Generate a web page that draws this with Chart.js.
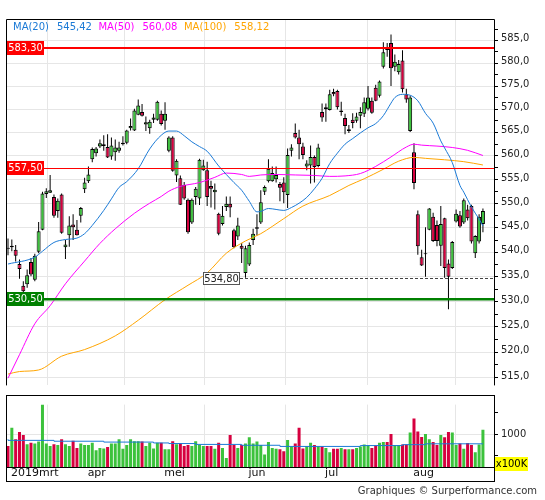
<!DOCTYPE html>
<html><head><meta charset="utf-8">
<script src="https://cdn.jsdelivr.net/npm/chart.js@4/dist/chart.umd.min.js"></script>
<style>
html,body{margin:0;padding:0;background:#fff;}
#wrap{position:relative;width:545px;height:500px;background:#fff;}
#c1{position:absolute;left:0;top:0;}
#c2{position:absolute;left:0;top:395px;}
</style></head><body>
<div id="wrap"><canvas id="c1" width="545" height="395"></canvas><canvas id="c2" width="545" height="105"></canvas></div>
<script>
// ---------- DATA ----------
const monthLabels = ['2019mrt','apr','mei','jun','jul','aug'];
const monthFirstIdx = [0,21,41,63,83,106];

const opens = [540.9,541.0,540.5,537.6,533.2,533.5,538.0,534.4,540.1,544.6,
552.0,552.3,551.4,548.5,551.9,541.0,543.5,545.7,544.6,547.5,
553.0,554.7,559.3,560.6,562.0,562.1,561.9,559.9,560.8,561.1,
562.5,562.8,565.9,565.4,568.8,569.4,566.7,565.9,567.7,567.7,
569.0,567.5,561.1,563.9,555.9,555.3,553.9,550.8,546.1,551.4,
551.1,557.0,557.0,553.7,552.4,547.9,545.8,549.3,550.0,544.5,
543.2,541.3,535.8,537.5,542.5,544.8,546.1,552.5,554.7,554.7,
555.1,554.1,554.4,551.8,561.1,564.9,563.9,562.0,557.8,558.0,
559.8,557.9,569.4,570.0,569.8,573.7,573.9,569.4,568.1,565.3,
567.7,567.5,568.6,569.0,570.1,571.8,574.6,572.9,579.2,583.4,
584.4,579.2,578.0,580.6,573.2,565.3,560.8,547.8,539.0,539.6,
544.6,547.3,545.6,541.3,547.0,537.7,536.8,546.3,547.6,546.1,
548.8,549.5,539.8,542.2,545.8];
const highs = [542.8,542.6,541.5,538.5,534.1,536.5,538.8,539.7,546.2,552.5,
553.2,556.0,551.9,551.1,552.1,542.5,547.4,547.8,546.6,549.3,
555.4,557.8,561.8,561.9,563.5,564.4,564.6,563.9,563.5,563.0,
564.2,565.6,568.0,570.1,572.1,571.1,568.4,567.7,569.0,571.8,
569.7,571.5,564.2,564.2,559.3,555.9,554.5,551.1,551.1,553.5,
559.4,559.2,558.8,554.8,554.2,548.1,549.5,551.5,551.5,544.8,
547.1,541.9,541.3,542.0,544.8,547.8,552.8,553.8,559.3,557.8,
557.8,554.5,555.5,561.6,562.5,566.9,565.6,562.8,559.1,562.2,
560.1,562.6,571.2,571.2,574.2,574.4,574.2,571.6,569.0,566.6,
569.1,569.2,570.4,572.5,575.0,572.5,575.3,576.2,584.6,584.4,
586.3,581.9,580.7,582.8,574.4,572.9,562.7,548.6,540.5,545.1,
549.1,548.1,546.5,549.5,547.1,538.5,542.3,548.8,548.5,551.1,
549.8,549.8,543.5,547.8,549.0];
const lows = [539.4,540.2,538.1,534.6,531.5,532.8,535.1,534.1,539.8,544.5,
551.2,552.2,547.1,547.1,543.8,538.6,541.1,542.5,543.4,546.1,
552.2,554.3,558.7,559.9,561.7,561.1,559.6,559.2,559.0,560.7,
562.2,562.5,565.4,565.3,568.7,568.4,565.3,564.7,567.0,567.5,
566.5,565.6,560.8,556.7,554.5,549.7,550.8,543.8,545.8,549.8,
549.7,556.9,549.5,549.2,548.8,543.5,545.5,548.5,547.2,540.8,
542.5,537.8,534.8,537.2,541.5,543.5,545.8,551.8,554.4,554.6,
554.4,550.5,550.1,549.1,559.9,563.7,559.3,559.3,557.0,554.2,
554.4,557.6,567.3,567.3,569.7,572.8,569.9,568.6,564.6,564.9,
565.9,567.1,565.9,568.3,569.7,569.0,571.7,572.5,578.8,581.4,
575.0,578.2,577.5,573.6,571.4,565.1,553.0,539.5,537.2,535.0,
544.5,542.1,541.2,537.2,534.8,528.5,536.6,546.1,545.0,545.8,
546.5,541.8,538.8,541.8,544.1];
const closes = [540.7,541.3,539.3,536.6,532.1,535.3,535.5,539.3,544.3,552.1,
552.6,552.8,547.5,550.6,544.0,541.6,545.5,545.1,543.5,549.1,
554.4,556.1,561.5,561.6,562.7,562.5,559.7,562.2,561.8,561.8,
562.8,565.4,566.4,569.7,570.8,568.6,567.2,567.3,568.2,571.6,
566.8,569.0,563.9,556.9,559.0,549.8,551.1,544.1,550.8,553.1,
559.2,558.0,551.4,553.1,552.9,543.8,547.5,550.0,549.2,541.0,
545.5,540.7,540.8,541.5,543.8,545.1,550.3,553.5,557.3,556.4,
556.0,553.3,552.4,560.2,561.8,563.9,562.5,560.2,558.4,559.8,
557.7,561.8,568.2,570.4,573.2,573.2,570.4,569.7,566.4,565.7,
567.0,568.4,569.4,571.5,572.5,569.2,571.8,576.0,582.4,582.9,
578.9,580.3,579.8,574.3,572.1,572.5,554.3,541.2,537.3,539.8,
549.0,542.3,542.3,545.8,536.8,535.0,542.1,547.9,545.3,550.7,
547.0,542.2,543.3,547.3,548.5];
// volume in units of 100K
const volumes = [730,1153,885,1052,986,771,805,785,831,1690,
785,730,771,751,885,771,730,851,684,785,
751,751,805,630,684,671,704,785,785,885,
664,751,885,838,838,831,730,805,671,805,
805,650,650,838,771,785,730,751,730,838,
751,730,730,730,664,805,684,449,986,751,
684,751,785,932,785,831,751,529,819,684,
664,650,604,865,718,785,1153,671,730,805,
751,718,718,684,584,664,664,684,650,650,
650,684,718,765,745,684,745,805,819,819,
1006,751,751,765,765,1040,1368,1066,940,1006,
885,819,751,986,932,1052,1040,751,785,664,
798,751,584,765,1107];

const ma20Idx = [0,7,9,12,15,18,20,22,25,27,29,31,34,37,40,42,44,46,48,50,52,55,59,61,63,65,66,68,70,72,74,76,78,80,82,84,86,88,90,92,94,96,98,100,101,103,105,107,109,111,113,114,116,118,119,121,123,124];
const ma20Val = [537.6,539.0,540.2,542.0,542.6,542.9,543.8,545.5,548.6,551.0,553.4,554.6,557.3,561.5,564.4,565.3,565.3,564.3,563.0,562.0,561.0,557.9,554.4,552.8,550.5,548.3,548.4,549.0,548.8,548.6,549.2,550.1,551.3,553.1,555.3,558.4,560.6,562.5,563.7,564.9,566.0,566.9,568.6,571.3,572.5,573.2,573.0,571.8,569.1,567.0,563.2,561.7,558.6,553.8,552.4,549.3,546.8,545.4];
const ma50Idx = [0,3,7,11,15,20,24,28,33,37,40,42,45,50,54,57,61,63,66,70,75,80,84,88,92,96,100,104,106,108,112,116,120,124];
const ma50Val = [514.9,519.5,525.6,529.2,533.6,538.2,541.8,544.8,548.0,550.1,551.5,552.6,553.6,554.4,555.5,556.4,556.1,555.7,556.0,556.1,556.0,555.9,555.7,555.8,556.3,557.8,559.8,561.9,562.5,562.3,562.1,561.8,561.2,560.1];
const ma100Idx = [0,3,8,14,20,28,34,41,47,52,57,62,66,72,77,84,89,93,98,102,106,109,114,119,124];
const ma100Val = [515.7,516.2,516.5,519.2,520.5,523.2,526.3,530.4,533.3,535.8,539.8,542.3,543.8,546.9,549.5,551.7,553.8,555.2,557.2,558.9,559.7,559.5,559.2,558.8,558.1];
const volMaIdx = [0,12,25,38,42,49,61,71,92,103,109,115,124];
const volMaVal = [885,859,839,819,799,785,765,745,718,738,759,779,779];

const maNames = ['MA(20)','MA(50)','MA(100)'];
const maLast = [545.42,560.08,558.12];
const levelValues = [583.30,557.50,530.50];
const markValue = 534.80;
const markIdx = 62;
const priceTickValues = [517.5,520,522.5,525,527.5,530,532.5,535,537.5,540,542.5,545,547.5,550,552.5,555,557.5,560,562.5,565,567.5,570,572.5,575,577.5,580,582.5,585,587.5,515];
const volTickValues = [500,1000,1500];
const volLabelValue = 1000;
const volUnit = 'x100K';
const creditText = 'Graphiques \u00A9 Surperformance.com';

// ---------- STYLE / LAYOUT ----------
const UP = '#3cc23c', DOWN = '#d6003f';
const MA_COLORS = ['#1b7ad6','#ff00ff','#ffa500'];
const GRID = '#e6e6e6';
const AXIS_FONT = "'DejaVu Sans Condensed','Liberation Sans',sans-serif";
const TXT_FONT = "'DejaVu Sans',Verdana,sans-serif";
const X_MIN = -0.261, X_MAX = 126.89;
const P_MIN = 513.5, P_MAX = 589.75;
const V_MIN = 240, V_MAX = 1690;

const idx = opens.map((_, i) => i);
const up = idx.map(i => closes[i] >= opens[i]);
const fmt = (v, d) => v.toFixed(d).replace('.', ',');

function monthTicks(scale, withFirst) {
  const t = [];
  monthFirstIdx.forEach((m, k) => {
    if (k === 0) { if (withFirst) t.push({ value: scale.min + 0.65 }); }
    else t.push({ value: m - 0.6 });
  });
  scale.ticks = t;
}
const maDs = (ix, vals, color) => ({
  type: 'line', order: 0,
  data: ix.map((x, k) => ({ x, y: vals[k] })),
  borderColor: color, borderWidth: 1, pointRadius: 0, tension: 0.3,
  cubicInterpolationMode: 'monotone', fill: false
});

const topOverlay = {
  id: 'topOverlay',
  afterDatasetsDraw(chart) {
    const { ctx, chartArea: a, scales } = chart;
    const y = scales.y, x = scales.x;
    ctx.save();
    const st = [{ c: '#ff0000', w: 2, box: '#ff0000' }, { c: '#ff0000', w: 1, box: '#ff0000' }, { c: '#008000', w: 2.4, box: '#008000' }];
    levelValues.forEach((v, k) => {
      let py = y.getPixelForValue(v);
      if (st[k].w === 1) py = Math.round(py) + 0.5;
      ctx.strokeStyle = st[k].c; ctx.lineWidth = st[k].w;
      ctx.beginPath(); ctx.moveTo(a.left, py); ctx.lineTo(a.right, py); ctx.stroke();
    });
    // low marker
    const mx = x.getPixelForValue(markIdx);
    const my = Math.round(y.getPixelForValue(markValue));
    const bw = 37, bh = 13, bxR = Math.round(mx - 5.5);
    ctx.setLineDash([3, 2]); ctx.strokeStyle = '#444'; ctx.lineWidth = 1;
    ctx.beginPath(); ctx.moveTo(bxR, my + 0.5); ctx.lineTo(a.right, my + 0.5); ctx.stroke();
    ctx.setLineDash([]);
    ctx.fillStyle = '#fff'; ctx.fillRect(bxR - bw, my - 6, bw, bh);
    ctx.strokeStyle = '#555'; ctx.strokeRect(bxR - bw + 0.5, my - 6 + 0.5, bw - 1, bh - 1);
    ctx.font = '11px ' + AXIS_FONT; ctx.textAlign = 'center'; ctx.textBaseline = 'middle';
    ctx.fillStyle = '#222'; ctx.fillText(fmt(markValue, 2), bxR - bw / 2, my + 1);
    // level labels
    levelValues.forEach((v, k) => {
      const py = Math.round(y.getPixelForValue(v));
      ctx.fillStyle = st[k].box; ctx.fillRect(a.left, py - 7, 37, 14);
      ctx.fillStyle = '#fff'; ctx.fillText(fmt(v, 2), a.left + 18.5, py + 0.5);
    });
    // MA legend
    ctx.font = '10px ' + TXT_FONT; ctx.textAlign = 'left';
    let lx = a.left + 6;
    maNames.forEach((n, k) => {
      ctx.fillStyle = MA_COLORS[k];
      ctx.fillText(n, lx, a.top + 8.5); lx += ctx.measureText(n).width + 8;
      const s = fmt(maLast[k], 2);
      ctx.fillText(s, lx, a.top + 8.5); lx += ctx.measureText(s).width + 6.5;
    });
    // frame
    ctx.strokeStyle = '#000'; ctx.lineWidth = 1;
    ctx.beginPath();
    ctx.moveTo(a.left - 0.5, a.bottom); ctx.lineTo(a.left - 0.5, a.top + 0.5);
    ctx.lineTo(a.right + 0.5, a.top + 0.5); ctx.lineTo(a.right + 0.5, a.bottom);
    ctx.stroke();
    ctx.restore();
  }
};

const bottomOverlay = {
  id: 'bottomOverlay',
  afterDraw(chart) {
    const { ctx, chartArea: a } = chart;
    ctx.save();
    ctx.strokeStyle = '#000'; ctx.lineWidth = 1;
    ctx.beginPath();
    ctx.moveTo(a.left - 1, 0.5); ctx.lineTo(a.right + 1, 0.5);
    ctx.moveTo(a.left - 1, a.bottom + 0.5); ctx.lineTo(a.right + 1, a.bottom + 0.5);
    ctx.moveTo(a.left - 1, a.bottom + 14.5); ctx.lineTo(a.right + 1, a.bottom + 14.5);
    ctx.moveTo(a.left - 0.5, 0); ctx.lineTo(a.left - 0.5, a.bottom + 15);
    ctx.moveTo(a.right + 0.5, 0); ctx.lineTo(a.right + 0.5, a.bottom + 15);
    ctx.stroke();
    ctx.fillStyle = '#ffff00'; ctx.fillRect(a.right + 1, a.bottom - 10, 33, 14);
    ctx.fillStyle = '#000'; ctx.font = '10px ' + TXT_FONT; ctx.textAlign = 'center'; ctx.textBaseline = 'middle';
    ctx.fillText(volUnit, a.right + 17.5, a.bottom - 2.5);
    ctx.fillStyle = '#333'; ctx.textAlign = 'right';
    ctx.fillText(creditText, 537, a.bottom + 24);
    ctx.restore();
  }
};

// ---------- PRICE CHART ----------
new Chart(document.getElementById('c1'), {
  type: 'bar',
  data: {
    datasets: [
      maDs(ma20Idx, ma20Val, MA_COLORS[0]),
      maDs(ma50Idx, ma50Val, MA_COLORS[1]),
      maDs(ma100Idx, ma100Val, MA_COLORS[2]),
      {
        type: 'bar', order: 1, grouped: false,
        data: idx.map(i => ({ x: i, y: [Math.min(opens[i], closes[i]), Math.max(opens[i], closes[i])] })),
        backgroundColor: idx.map(i => up[i] ? UP : DOWN),
        borderColor: '#000', borderWidth: 1, borderSkipped: false,
        barThickness: 4, inflateAmount: 0
      },
      {
        type: 'bar', order: 2, grouped: false,
        data: idx.map(i => ({ x: i, y: [lows[i], highs[i]] })),
        backgroundColor: '#000', borderWidth: 0, barThickness: 1, inflateAmount: 0
      }
    ]
  },
  options: {
    responsive: false, animation: false, events: [],
    layout: { padding: { left: 7, top: 19, right: 0, bottom: 0 } },
    plugins: { legend: { display: false }, tooltip: { enabled: false } },
    scales: {
      x: {
        type: 'linear', min: X_MIN, max: X_MAX, offset: false,
        afterBuildTicks: s => monthTicks(s, false),
        afterFit: s => { s.height = 0; },
        ticks: { display: false },
        grid: { color: GRID, drawTicks: false },
        border: { display: false }
      },
      y: {
        type: 'logarithmic', position: 'right', min: P_MIN, max: P_MAX,
        afterBuildTicks: s => { s.ticks = priceTickValues.slice().sort((a, b) => a - b).map(v => ({ value: v })); },
        afterFit: s => { s.width = 51; },
        ticks: {
          autoSkip: false, padding: 3, labelOffset: -2, color: '#222',
          font: { family: AXIS_FONT, size: 11 },
          callback: v => (Math.abs(v % 5) < 1e-6 ? fmt(v, 1) : '')
        },
        grid: {
          color: c => (c.tick && Math.abs(c.tick.value % 5) < 1e-6 ? GRID : 'rgba(0,0,0,0)'),
          tickColor: '#000', tickLength: 4, drawTicks: true
        },
        border: { display: false }
      }
    }
  },
  plugins: [topOverlay]
});

// ---------- VOLUME CHART ----------
new Chart(document.getElementById('c2'), {
  type: 'bar',
  data: {
    datasets: [
      {
        type: 'line', order: 0, yAxisID: 'yv',
        data: volMaIdx.map((x, k) => ({ x, y: volMaVal[k] })),
        borderColor: '#1b7ad6', borderWidth: 1, pointRadius: 0, stepped: 'after', fill: false
      },
      {
        type: 'bar', order: 1, yAxisID: 'yv', grouped: false,
        data: idx.map(i => ({ x: i, y: volumes[i] })),
        backgroundColor: idx.map(i => up[i] ? UP : DOWN),
        borderWidth: 0, barThickness: 3, inflateAmount: 0
      }
    ]
  },
  options: {
    responsive: false, animation: false, events: [],
    layout: { padding: { left: 7, top: 0, right: 0, bottom: 18 } },
    plugins: { legend: { display: false }, tooltip: { enabled: false } },
    scales: {
      x: {
        type: 'linear', min: X_MIN, max: X_MAX, offset: false, position: 'bottom',
        afterBuildTicks: s => monthTicks(s, true),
        afterFit: s => { s.height = 15; },
        ticks: {
          autoSkip: false, maxRotation: 0, align: 'start', labelOffset: 1.5, padding: 0,
          color: '#111', font: { family: TXT_FONT, size: 11 },
          callback: (v, i) => monthLabels[i]
        },
        grid: { color: c => (c.index === 0 ? 'rgba(0,0,0,0)' : GRID), drawTicks: false },
        border: { display: false }
      },
      yv: {
        type: 'linear', position: 'right', min: V_MIN, max: V_MAX, beginAtZero: false,
        afterBuildTicks: s => { s.ticks = volTickValues.map(v => ({ value: v })); },
        afterFit: s => { s.width = 51; },
        ticks: {
          autoSkip: false, padding: 3, color: '#222',
          font: { family: AXIS_FONT, size: 11 },
          callback: v => (v === volLabelValue ? String(v) : '')
        },
        grid: {
          color: c => (c.tick && c.tick.value === volLabelValue ? GRID : 'rgba(0,0,0,0)'),
          tickColor: '#000', tickLength: 4
        },
        border: { display: false }
      }
    }
  },
  plugins: [bottomOverlay]
});
</script>
</body></html>
